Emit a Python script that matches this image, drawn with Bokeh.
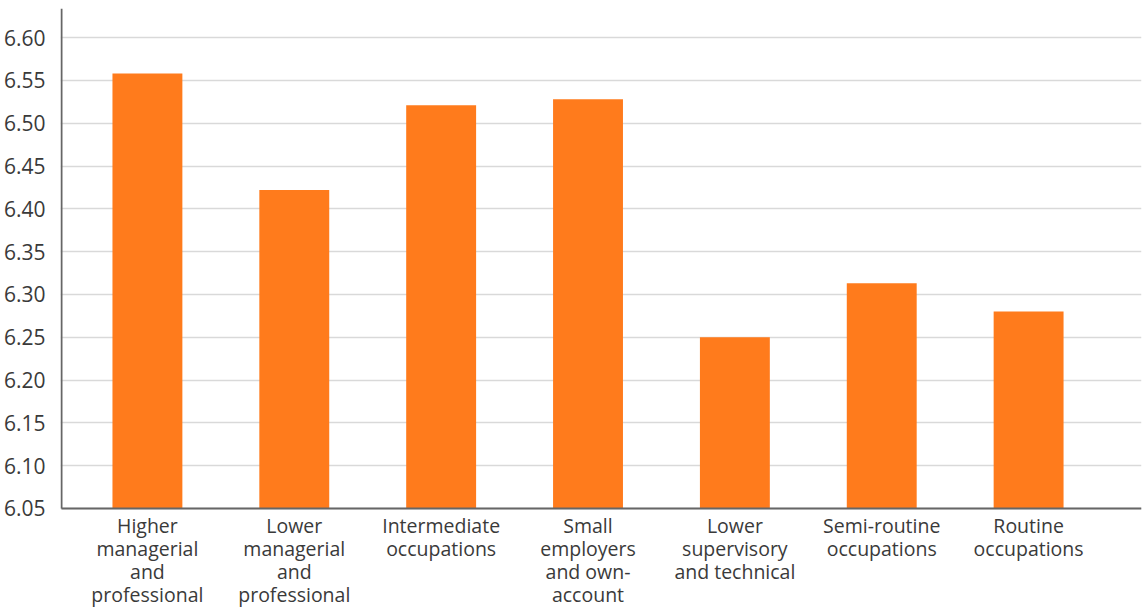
from bokeh.plotting import figure
from bokeh.models import ColumnDataSource, Range1d, FixedTicker, PrintfTickFormatter
from bokeh.core.properties import value
from bokeh.embed import file_html
from bokeh.resources import INLINE

categories = [
    "Higher\nmanagerial\nand\nprofessional",
    "Lower\nmanagerial\nand\nprofessional",
    "Intermediate\noccupations",
    "Small\nemployers\nand own-\naccount",
    "Lower\nsupervisory\nand technical",
    "Semi-routine\noccupations",
    "Routine\noccupations",
]
values = [6.558, 6.422, 6.521, 6.528, 6.250, 6.313, 6.280]
y_ticks = [6.05, 6.10, 6.15, 6.20, 6.25, 6.30, 6.35, 6.40, 6.45, 6.50, 6.55, 6.60]

x = list(range(len(categories)))
y0 = 6.05          # baseline of the value axis
y_top = 6.634
px_per_unit = 42.8 / 0.05   # vertical pixels per value unit
px_per_cat = 147.0          # horizontal pixels per category
frame_h = 609 - 8
y_start = y_top - frame_h / px_per_unit
x_start = -87 / px_per_cat
x_end = x_start + (1141 - 59) / px_per_cat
axis_x = x_start + 1 / px_per_cat

font = "Open Sans"
txt = "#3a3a3a"
axis_col = "#666666"

src = ColumnDataSource(dict(x=x, top=values, label=categories,
                            ly=[y0 - 4 / px_per_unit] * len(x)))

p = figure(width=1143, height=609, output_backend="svg", toolbar_location=None,
           x_range=Range1d(x_start, x_end), y_range=Range1d(y_start, y_top),
           min_border_left=59, min_border_right=2, min_border_top=8, min_border_bottom=0,
           x_axis_location=None)
p.outline_line_color = None

p.xgrid.grid_line_color = None
p.ygrid.grid_line_color = "#d9d9d9"
p.ygrid.grid_line_width = 1.5
p.ygrid.ticker = FixedTicker(ticks=y_ticks)

p.vbar(x="x", top="top", bottom=y0, width=0.476, source=src,
       fill_color="#FF7B1C", line_color=None)

# axis lines
p.segment(x0=[axis_x], y0=[y0], x1=[axis_x], y1=[y_top],
          line_color=axis_col, line_width=2)
p.segment(x0=[axis_x], y0=[y0], x1=[x_end], y1=[y0],
          line_color=axis_col, line_width=2)

p.yaxis.ticker = FixedTicker(ticks=y_ticks)
p.yaxis.formatter = PrintfTickFormatter(format="%.2f")
p.yaxis.axis_line_color = None
p.yaxis.major_tick_line_color = None
p.yaxis.minor_tick_line_color = None
p.yaxis.major_label_text_font = font
p.yaxis.major_label_text_color = txt
p.yaxis.major_label_text_font_size = "21px"
p.yaxis.major_label_standoff = 9

# category labels
p.text(x="x", y="ly", text="label", source=src,
       text_align="center", text_baseline="top",
       text_font=value(font), text_font_size="19.5px", text_color=txt,
       text_line_height=0.845)

open("out.html", "w").write(file_html(p, INLINE))
